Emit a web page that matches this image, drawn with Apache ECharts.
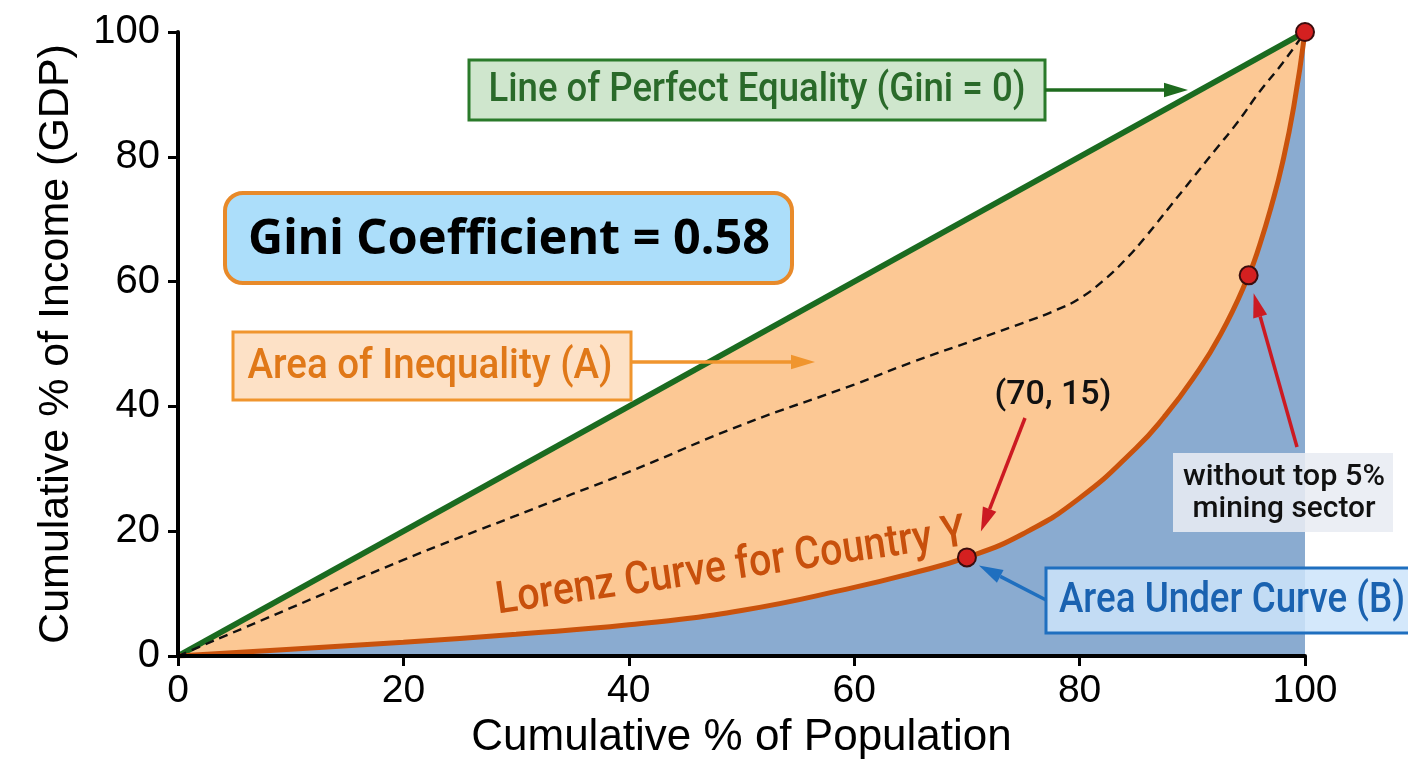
<!DOCTYPE html>
<html>
<head>
<meta charset="utf-8">
<script src="https://cdn.jsdelivr.net/npm/echarts@6/dist/echarts.min.js"></script>
<style>
html,body{margin:0;padding:0;background:#fff;}
#c{width:1408px;height:768px;}
</style>
</head>
<body>
<div id="c"></div>
<script>
// ---- data ----
const equalityX = [0, 100];
const equalityY = [0, 100];
const lorenzX = [0, 10, 20, 30, 40, 50, 60, 65, 70, 75, 80, 85, 87.5, 90, 92.5, 95, 96, 97, 98, 99, 100];
const lorenzY = [0, 1.1, 2.2, 3.5, 5.0, 7.3, 11.0, 13.2, 15.8, 19.6, 25.3, 33.3, 38.3, 44.3, 51.5, 61, 66, 72, 79, 88, 100];
const withoutTopX = [0, 10, 20, 30, 40, 50, 60, 65, 70, 75, 78, 80, 82, 84, 86, 88, 90, 92, 94, 96, 98, 100];
const withoutTopY = [0, 7.7, 15.4, 22.5, 29.5, 37, 43.5, 47, 50.2, 53.4, 55.5, 57.3, 60, 63.4, 67.5, 72, 76.5, 81, 85.5, 90.5, 95, 100];
const markerX = [70, 95, 100];
const markerY = [15.8, 61, 100];
const labels = {
  equality: 'Line of Perfect Equality (Gini = 0)',
  gini: 'Gini Coefficient = 0.58',
  areaA: 'Area of Inequality (A)',
  point: '(70, 15)',
  lorenz: 'Lorenz Curve for Country Y',
  mining: ['without top 5%', 'mining sector'],
  areaB: 'Area Under Curve (B)',
  xName: 'Cumulative % of Population',
  yName: 'Cumulative % of Income (GDP)'
};

const zip = (xs, ys) => xs.map((x, i) => [x, ys[i]]);
const ROB = "Roboto,'Noto Sans',sans-serif";
const SANS = "'Liberation Sans',Arial,sans-serif";

const chart = echarts.init(document.getElementById('c'));

const axisCommon = {
  type: 'value', min: 0, max: 100, interval: 20, z: 10,
  axisLine: {show: true, lineStyle: {color: '#000', width: 4}},
  axisTick: {show: true, length: 10, lineStyle: {color: '#000', width: 3}},
  splitLine: {show: false},
  nameLocation: 'middle'
};

chart.setOption({
  animation: false,
  backgroundColor: '#fff',
  grid: {left: 178, right: 103, top: 32, bottom: 112, containLabel: false},
  xAxis: Object.assign({}, axisCommon, {
    name: labels.xName, nameGap: 58,
    nameTextStyle: {color: '#000', fontSize: 44, fontFamily: SANS},
    axisLabel: {color: '#000', fontSize: 39, fontFamily: SANS, margin: 16}
  }),
  yAxis: Object.assign({}, axisCommon, {
    name: labels.yName, nameGap: 100,
    nameTextStyle: {color: '#000', fontSize: 43, fontFamily: SANS},
    axisLabel: {color: '#000', fontSize: 40, fontFamily: SANS, margin: 18}
  }),
  series: [
    {
      type: 'line', data: zip(equalityX, equalityY), symbol: 'none', z: 2,
      lineStyle: {color: '#1b6b20', width: 6},
      areaStyle: {color: '#fcc894', opacity: 1}
    },
    {
      type: 'line', data: zip(lorenzX, lorenzY), symbol: 'none', smooth: 0.5, z: 3,
      lineStyle: {color: '#c9520c', width: 5},
      areaStyle: {color: '#8aabd0', opacity: 1}
    },
    {
      type: 'line', data: zip(withoutTopX, withoutTopY), symbol: 'none', smooth: 0.5, z: 4,
      lineStyle: {color: '#111', width: 2.4, type: [9, 6]}
    },
    {
      type: 'scatter', data: zip(markerX, markerY), symbolSize: 18, z: 6,
      itemStyle: {color: '#d42020', borderColor: '#3a0d0d', borderWidth: 2, opacity: 1}
    }
  ]
});

const mctx = document.createElement('canvas').getContext('2d');
function fitText(opt) {
  const weight = opt.weight || 'normal';
  mctx.font = weight + ' ' + opt.size + 'px ' + opt.family;
  const w = mctx.measureText(opt.text).width;
  const sx = opt.width / w;
  return {
    type: 'text', z: opt.z || 21, x: opt.x, y: opt.y, rotation: opt.rotation || 0,
    scaleX: sx, scaleY: 1,
    style: {text: opt.text, fill: opt.fill, fontSize: opt.size, fontWeight: weight, fontFamily: opt.family,
      align: opt.align || 'center', verticalAlign: 'middle'}
  };
}

function arrow(x1, y1, x2, y2, color, w, head) {
  const ang = Math.atan2(y2 - y1, x2 - x1);
  const hl = head || 22, hw = hl * 0.6;
  const bx = x2 - hl * Math.cos(ang), by = y2 - hl * Math.sin(ang);
  const px = -Math.sin(ang), py = Math.cos(ang);
  return [
    {type: 'line', z: 20, shape: {x1: x1, y1: y1, x2: bx, y2: by}, style: {stroke: color, lineWidth: w}},
    {type: 'polygon', z: 20, shape: {points: [[x2, y2], [bx + px * hw / 2, by + py * hw / 2], [bx - px * hw / 2, by - py * hw / 2]]}, style: {fill: color}}
  ];
}

const p70 = chart.convertToPixel({gridIndex: 0}, [markerX[0], markerY[0]]);
const p95 = chart.convertToPixel({gridIndex: 0}, [markerX[1], markerY[1]]);

let g = [];
g.push({type: 'rect', z: 20, shape: {x: 469, y: 60, width: 576, height: 60}, style: {fill: '#cfe6cd', stroke: '#2a7a2a', lineWidth: 3}});
g.push(fitText({text: labels.equality, x: 757, y: 91, size: 40, weight: 500, family: ROB, width: 537, fill: '#2a6a2a'}));
g = g.concat(arrow(1045, 90, 1188, 90, '#1e6b1e', 3.5, 24));
g.push({type: 'rect', z: 20, shape: {x: 225, y: 193, width: 567, height: 90, r: 18}, style: {fill: '#acdefa', stroke: '#e88a2a', lineWidth: 4}});
g.push(fitText({text: labels.gini, x: 509, y: 240, size: 48, weight: 'bold', family: "'Noto Sans','Open Sans',sans-serif", width: 522, fill: '#000'}));
g.push({type: 'rect', z: 20, shape: {x: 233, y: 332, width: 398, height: 68}, style: {fill: '#fde1c6', stroke: '#f0952e', lineWidth: 3}});
g.push(fitText({text: labels.areaA, x: 430, y: 367, size: 42, weight: 500, family: ROB, width: 365, fill: '#e07818'}));
g = g.concat(arrow(631, 362, 815, 362, '#f0952e', 3.5, 24));
g.push(fitText({text: labels.point, x: 1053, y: 396, size: 33, weight: 500, family: ROB, width: 117, fill: '#111'}));
g = g.concat(arrow(1025, 418, p70[0] + 14, p70[1] - 26, '#cc1a22', 3.5, 24));
g.push(fitText({text: labels.lorenz, x: 731, y: 568, size: 45, weight: 500, family: ROB, width: 474, fill: '#c8500c', rotation: 0.145}));
g.push({type: 'rect', z: 20, shape: {x: 1173, y: 453, width: 220, height: 79}, style: {fill: 'rgba(232,236,242,0.88)'}});
g.push(fitText({text: labels.mining[0], x: 1284, y: 477, size: 30, weight: 500, family: ROB, width: 202, fill: '#111'}));
g.push(fitText({text: labels.mining[1], x: 1284, y: 509, size: 30, weight: 500, family: ROB, width: 183, fill: '#111'}));
g = g.concat(arrow(1297, 447, p95[0] + 5, p95[1] + 18, '#cc1a22', 3.5, 24));
g.push({type: 'rect', z: 20, shape: {x: 1046, y: 568, width: 372, height: 65}, style: {fill: 'rgba(205,228,250,0.85)', stroke: '#1f6fbf', lineWidth: 3}});
g.push(fitText({text: labels.areaB, x: 1059, y: 601, size: 42, weight: 500, family: ROB, width: 346, fill: '#1a62b0', align: 'left'}));
g = g.concat(arrow(1046, 600, p70[0] + 12, p70[1] + 8, '#1f6fbf', 3.5, 24));

chart.setOption({graphic: g});
</script>
</body>
</html>
